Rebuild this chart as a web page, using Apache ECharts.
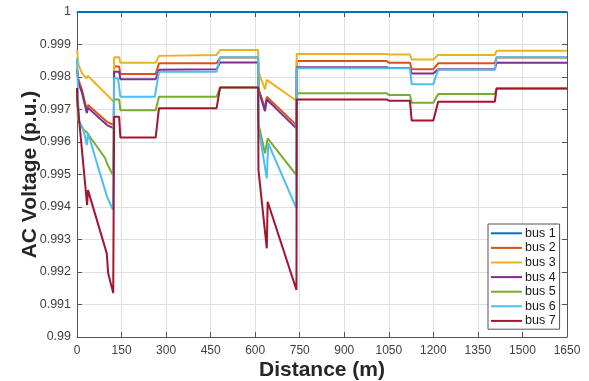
<!DOCTYPE html>
<html>
<head>
<meta charset="utf-8">
<script src="https://cdn.jsdelivr.net/npm/echarts@6/dist/echarts.min.js"></script>
<style>
html,body{margin:0;padding:0;background:#fff;}
#chart{width:589px;height:381px;}
</style>
</head>
<body>
<div id="chart"></div>
<script>
// ---- data: [distance (m), AC voltage (p.u.)] ----
const seriesNames = ['bus 1','bus 2','bus 3','bus 4','bus 5','bus 6','bus 7'];
const xTicks = [0,150,300,450,600,750,900,1050,1200,1350,1500,1650];
const yTicks = [0.99,0.991,0.992,0.993,0.994,0.995,0.996,0.997,0.998,0.999,1];

const bus1 = [[0,1],[1650,1]];
const bus2 = [[0,0.99828],[5,0.99791],[17,0.9976],[33,0.99698],[37,0.99714],[101,0.99662],[124,0.99652],
  [125,0.99832],[142,0.99832],[146,0.99809],[265,0.99809],[276,0.99842],[470,0.99842],[482,0.9986],[610,0.9986],
  [611,0.99765],[633,0.99704],[639,0.99739],[739,0.99652],
  [740,0.99849],[1043,0.99849],[1050,0.99844],[1121,0.99844],[1127,0.99824],[1200,0.99824],[1216,0.99842],[1407,0.99842],[1413,0.9986],[1650,0.9986]];
const bus3 = [[0,0.99883],[5,0.99837],[17,0.99811],[33,0.99796],[37,0.99803],[101,0.99745],[124,0.99724],
  [125,0.99861],[142,0.99861],[146,0.99844],[265,0.99844],[276,0.99865],[470,0.99868],[482,0.99883],[610,0.99883],
  [611,0.99816],[633,0.99762],[639,0.99791],[739,0.99727],
  [740,0.99871],[1043,0.99871],[1050,0.99869],[1121,0.99869],[1127,0.99854],[1200,0.99854],[1216,0.99868],[1407,0.99868],[1413,0.99881],[1650,0.99881]];
const bus4 = [[0,0.99822],[5,0.99782],[17,0.99751],[33,0.99689],[37,0.99705],[101,0.99652],[124,0.99642],
  [125,0.99816],[142,0.99816],[146,0.99793],[265,0.99793],[276,0.99822],[470,0.99824],[482,0.99845],[610,0.99845],
  [611,0.9976],[633,0.99695],[639,0.99731],[739,0.99642],
  [740,0.9983],[1043,0.9983],[1050,0.99828],[1121,0.99828],[1127,0.99811],[1200,0.99811],[1216,0.99824],[1407,0.99824],[1413,0.99844],[1650,0.99844]];
const bus5 = [[0,0.99766],[3,0.99668],[23,0.99637],[33,0.9963],[37,0.99636],[95,0.9955],[101,0.99534],[121,0.99498],[124,0.99493],
  [125,0.99731],[142,0.99731],[146,0.99698],[265,0.99698],[276,0.99739],[470,0.99739],[482,0.99768],[610,0.99768],
  [611,0.99652],[616,0.99637],[633,0.99565],[642,0.99611],[739,0.99498],
  [740,0.9975],[1043,0.9975],[1050,0.99745],[1121,0.99745],[1127,0.99721],[1200,0.99721],[1216,0.99748],[1407,0.99748],[1413,0.99765],[1650,0.99765]];
const bus6 = [[0,0.99858],[6,0.99668],[23,0.99632],[33,0.99591],[37,0.99627],[101,0.99432],[121,0.99391],[124,0.99391],
  [125,0.99796],[138,0.99796],[146,0.99739],[262,0.99739],[276,0.99816],[470,0.99816],[482,0.99861],[610,0.99861],
  [611,0.99647],[639,0.99488],[644,0.99596],[739,0.99396],
  [740,0.99827],[1121,0.99827],[1127,0.99778],[1200,0.99778],[1216,0.99822],[1407,0.99822],[1413,0.99861],[1650,0.99861]];
const bus7 = [[0,0.99766],[1,0.99728],[34,0.99406],[37,0.99452],[100,0.99258],[105,0.99196],[122,0.99135],[124,0.99135],
  [125,0.99678],[142,0.99678],[146,0.99614],[265,0.99614],[276,0.99704],[470,0.99704],[482,0.99768],[610,0.99768],
  [611,0.99514],[639,0.99273],[642,0.99416],[739,0.99145],
  [740,0.99731],[1043,0.99731],[1050,0.99727],[1121,0.99727],[1127,0.99666],[1200,0.99666],[1216,0.99724],[1407,0.99724],[1413,0.99765],[1650,0.99765]];

const busData = [bus1,bus2,bus3,bus4,bus5,bus6,bus7];
const colors = ['#0072BD','#D95319','#EDB120','#7E2F8E','#77AC30','#4DBEEE','#A2142F'];

const font = 'Liberation Sans, Arial, sans-serif';
const axisColor = '#555555';
const gridColor = '#e0e0e0';
const fmtY = v => String(parseFloat(Number(v).toFixed(3)));
const fmtX = v => String(Math.round(v));

const chart = echarts.init(document.getElementById('chart'), null, {renderer:'canvas'});
const xBase = {
  type:'value', min:xTicks[0], max:xTicks[xTicks.length-1], interval:150,
  axisLine:{show:true, onZero:false, lineStyle:{color:axisColor, width:1}},
  axisTick:{show:true, inside:true, length:5, lineStyle:{color:axisColor}},
  splitLine:{show:false}
};
const yBase = {
  type:'value', min:yTicks[0], max:yTicks[yTicks.length-1], interval:0.001,
  axisLine:{show:true, onZero:false, lineStyle:{color:axisColor, width:1}},
  axisTick:{show:true, inside:true, length:5, lineStyle:{color:axisColor}},
  splitLine:{show:false}
};
chart.setOption({
  animation:false,
  backgroundColor:'#ffffff',
  color:colors,
  grid:{left:77, right:22, top:12, bottom:44, containLabel:false, outerBoundsMode:'none'},
  xAxis:[
    Object.assign({}, xBase, {
      position:'bottom',
      name:'Distance (m)', nameLocation:'middle', nameGap:23, nameMoveOverlap:false,
      nameTextStyle:{fontFamily:font, fontSize:21, fontWeight:'bold', color:'#262626'},
      axisLabel:{show:true, margin:8, fontFamily:font, fontSize:12, color:'#404040', formatter:fmtX},
      splitLine:{show:true, lineStyle:{color:gridColor, width:1}}
    }),
    Object.assign({}, xBase, {position:'top', axisLabel:{show:false}})
  ],
  yAxis:[
    Object.assign({}, yBase, {
      position:'left',
      name:'AC Voltage (p.u.)', nameLocation:'middle', nameGap:36, nameMoveOverlap:false,
      nameTextStyle:{fontFamily:font, fontSize:21, fontWeight:'bold', color:'#262626'},
      axisLabel:{show:true, margin:6, fontFamily:font, fontSize:12.5, color:'#404040', formatter:fmtY},
      splitLine:{show:true, lineStyle:{color:gridColor, width:1}}
    }),
    Object.assign({}, yBase, {position:'right', axisLabel:{show:false}})
  ],
  legend:{
    show:true, orient:'vertical', left:488, top:224,
    data:seriesNames,
    icon:'rect', itemWidth:31, itemHeight:2, itemGap:0,
    padding:[2,4,1,3],
    backgroundColor:'#ffffff',
    borderColor:'#555555', borderWidth:1,
    textStyle:{fontFamily:font, fontSize:12.5, color:'#1a1a1a', lineHeight:14.6, padding:[0,0,0,-2]}
  },
  series: seriesNames.map((n,i)=>({
    name:n, type:'line', data:busData[i],
    showSymbol:false, symbol:'none', clip:false,
    lineStyle:{width:2, color:colors[i]},
    itemStyle:{color:colors[i]},
    z:2+i
  }))
});
</script>
</body>
</html>
